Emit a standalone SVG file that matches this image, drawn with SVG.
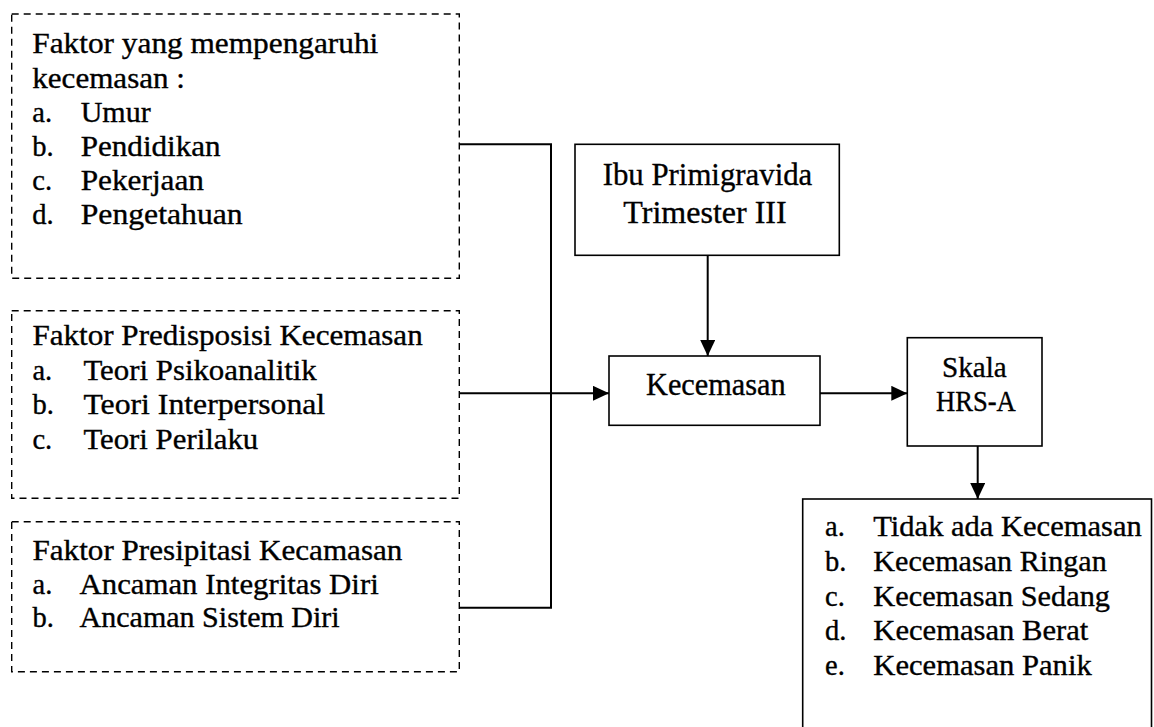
<svg xmlns="http://www.w3.org/2000/svg" width="1154" height="727" viewBox="0 0 1154 727">
<defs>
<style>
text{font-family:"Liberation Serif","Times New Roman",serif;fill:#000;stroke:#000;stroke-width:0.35}
.l{font-size:28.5px}
.dash{fill:none;stroke:#000;stroke-width:1.4;stroke-dasharray:7 5}
.box{fill:#fff;stroke:#000;stroke-width:1.6}
.con{fill:none;stroke:#000;stroke-width:2}
</style>
<marker id="ah" markerUnits="userSpaceOnUse" markerWidth="16" markerHeight="15" refX="16" refY="7.5" orient="auto">
<path d="M0,0 L16,7.5 L0,15 z" fill="#000"/>
</marker>
</defs>
<rect width="1154" height="727" fill="#fff"/>
<g id="connectors">
<path class="con" d="M459.3,144.3 H551 V607.7 H459.3"/>
<path class="con" d="M459.3,393.3 H609" marker-end="url(#ah)"/>
<path class="con" d="M707.7,255.3 V356" marker-end="url(#ah)"/>
<path class="con" d="M820,393.3 H907.3" marker-end="url(#ah)"/>
<path class="con" d="M977.7,446 V499" marker-end="url(#ah)"/>
</g>
<g id="faktor-pengaruh">
<rect class="dash" x="11.7" y="14" width="447.6" height="264.3"/>
<text class="l" x="32.3" y="53.3" textLength="346" lengthAdjust="spacingAndGlyphs">Faktor yang mempengaruhi</text>
<text class="l" x="32.3" y="87.5" textLength="152.7" lengthAdjust="spacingAndGlyphs">kecemasan :</text>
<text class="l" x="32.3" y="121.7">a.</text><text class="l" x="80.7" y="121.7" textLength="70" lengthAdjust="spacingAndGlyphs">Umur</text>
<text class="l" x="32.3" y="155.9">b.</text><text class="l" x="80.7" y="155.9" textLength="140" lengthAdjust="spacingAndGlyphs">Pendidikan</text>
<text class="l" x="32.3" y="190.1">c.</text><text class="l" x="80.7" y="190.1" textLength="123.3" lengthAdjust="spacingAndGlyphs">Pekerjaan</text>
<text class="l" x="32.3" y="224.3">d.</text><text class="l" x="80.7" y="224.3" textLength="162" lengthAdjust="spacingAndGlyphs">Pengetahuan</text>
</g>
<g id="faktor-predisposisi">
<rect class="dash" x="11.7" y="310.7" width="447.6" height="187.6"/>
<text class="l" x="32.4" y="345" textLength="390.3" lengthAdjust="spacingAndGlyphs">Faktor Predisposisi Kecemasan</text>
<text class="l" x="32.4" y="379.7">a.</text><text class="l" x="83.4" y="379.7" textLength="233.4" lengthAdjust="spacingAndGlyphs">Teori Psikoanalitik</text>
<text class="l" x="32.4" y="414.4">b.</text><text class="l" x="83.4" y="414.4" textLength="241.8" lengthAdjust="spacingAndGlyphs">Teori Interpersonal</text>
<text class="l" x="32.4" y="449.1">c.</text><text class="l" x="83.4" y="449.1" textLength="174.8" lengthAdjust="spacingAndGlyphs">Teori Perilaku</text>
</g>
<g id="faktor-presipitasi">
<rect class="dash" x="11.7" y="521.7" width="447.6" height="150"/>
<text class="l" x="32.5" y="560" textLength="369.9" lengthAdjust="spacingAndGlyphs">Faktor Presipitasi Kecamasan</text>
<text class="l" x="32.5" y="593.7">a.</text><text class="l" x="79.6" y="593.7" textLength="299.1" lengthAdjust="spacingAndGlyphs">Ancaman Integritas Diri</text>
<text class="l" x="32.5" y="627.4">b.</text><text class="l" x="79.6" y="627.4" textLength="260.1" lengthAdjust="spacingAndGlyphs">Ancaman Sistem Diri</text>
</g>
<g id="ibu-primigravida">
<rect class="box" x="575" y="144.3" width="264.3" height="111"/>
<text x="602.7" y="185" font-size="32" textLength="209.6" lengthAdjust="spacingAndGlyphs">Ibu Primigravida</text>
<text x="623.3" y="223.3" font-size="32" textLength="163.4" lengthAdjust="spacingAndGlyphs">Trimester III</text>
</g>
<g id="kecemasan">
<rect class="box" x="609" y="356" width="211" height="69.3"/>
<text x="646" y="395" font-size="31" textLength="139.7" lengthAdjust="spacingAndGlyphs">Kecemasan</text>
</g>
<g id="skala">
<rect class="box" x="907.3" y="337.7" width="134.7" height="108.3"/>
<text x="942" y="376.7" font-size="30" textLength="64.7" lengthAdjust="spacingAndGlyphs">Skala</text>
<text x="936" y="411" font-size="30" textLength="79.7" lengthAdjust="spacingAndGlyphs">HRS-A</text>
</g>
<g id="hasil">
<rect class="box" x="802.7" y="499" width="348.8" height="260"/>
<text class="l" x="825" y="536">a.</text><text class="l" x="873.3" y="536" textLength="268.4" lengthAdjust="spacingAndGlyphs">Tidak ada Kecemasan</text>
<text class="l" x="825" y="570.75">b.</text><text class="l" x="873.3" y="570.75" textLength="233.4" lengthAdjust="spacingAndGlyphs">Kecemasan Ringan</text>
<text class="l" x="825" y="605.5">c.</text><text class="l" x="873.3" y="605.5" textLength="236.7" lengthAdjust="spacingAndGlyphs">Kecemasan Sedang</text>
<text class="l" x="825" y="640.25">d.</text><text class="l" x="873.3" y="640.25" textLength="215" lengthAdjust="spacingAndGlyphs">Kecemasan Berat</text>
<text class="l" x="825" y="675">e.</text><text class="l" x="873.3" y="675" textLength="218.4" lengthAdjust="spacingAndGlyphs">Kecemasan Panik</text>
</g>
</svg>
